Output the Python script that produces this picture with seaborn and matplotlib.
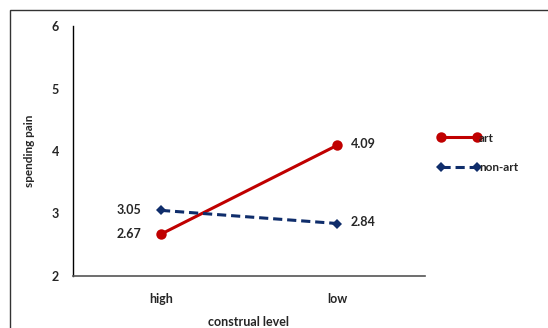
import matplotlib
matplotlib.use("Agg")
import matplotlib.pyplot as plt
import matplotlib.patches as patches
from matplotlib.ticker import FixedLocator
import pandas as pd
import seaborn as sns

levels = ["high", "low"]
art = [2.67, 4.09]
non_art = [3.05, 2.84]
groups = ["art", "non-art"]

df = pd.DataFrame({
    "construal level": levels * 2,
    "spending pain": art + non_art,
    "group": [groups[0]] * 2 + [groups[1]] * 2,
})

sns.set_style("white")
plt.rcParams["font.family"] = ["Lato", "DejaVu Sans"]
plt.rcParams["font.weight"] = "bold"

fig = plt.figure(figsize=(5.48, 3.28), dpi=100)
ax = fig.add_axes([73 / 548, 1 - 276 / 328, 352 / 548, 250 / 328])

red = "#C00000"
navy = "#0F2D6B"
sns.lineplot(data=df, x="construal level", y="spending pain", hue="group",
             style="group", palette={"art": red, "non-art": navy},
             markers={"art": "o", "non-art": "D"},
             dashes={"art": "", "non-art": (3, 1.6)},
             linewidth=2.2, markersize=7.5, markeredgewidth=0,
             ax=ax, legend=False)
# smaller diamonds
ax.lines[1].set_markersize(5.5)

ax.set_ylim(2, 6)
ax.set_yticks([2, 3, 4, 5, 6])
ax.set_xlim(-0.5, 1.5)
ax.xaxis.set_major_locator(FixedLocator([-0.5, 0.5, 1.5]))
ax.xaxis.set_minor_locator(FixedLocator([0, 1]))
ax.set_xticklabels([], minor=False)
ax.set_xticklabels(levels, minor=True)
ax.tick_params(axis="x", which="major", direction="out", length=4, color="#555555", width=1)
ax.tick_params(axis="x", which="minor", length=0, pad=12, labelsize=9)
ax.tick_params(axis="y", direction="out", length=4, width=1, color="black", labelsize=9, pad=6)

for s in ["top", "right"]:
    ax.spines[s].set_visible(False)
ax.spines["left"].set_color("black")
ax.spines["left"].set_linewidth(1)
ax.spines["bottom"].set_color("#555555")
ax.spines["bottom"].set_linewidth(1.2)

ax.set_xlabel("construal level", fontsize=9, fontweight="bold", labelpad=8)
ax.set_ylabel("spending pain", fontsize=8.5, fontweight="bold", labelpad=12)

# value labels: left of the "high" point, right of the "low" point
for series in (art, non_art):
    for i, v in enumerate(series):
        if i == 0:
            ax.annotate(f"{v:.2f}", (i, v), xytext=(-14, 0), textcoords="offset points",
                        ha="right", va="center", fontsize=9, fontweight="bold")
        else:
            ax.annotate(f"{v:.2f}", (i, v), xytext=(10, 1), textcoords="offset points",
                        ha="left", va="center", fontsize=9, fontweight="bold")

# legend
handles = [ax.lines[0], ax.lines[1]]
leg = fig.legend(handles, groups, loc="upper left",
                 bbox_to_anchor=(427 / 548, 1 - 122 / 328), frameon=False,
                 numpoints=2, handlelength=3.6, handletextpad=-0.1,
                 labelspacing=1.55, prop={"size": 8.5, "weight": "bold"})

# outer border
fig.patches.append(patches.Rectangle((10 / 548, -0.1), 1.2, 1 - 10 / 328 + 0.1,
                                     transform=fig.transFigure, fill=False,
                                     edgecolor="#333333", linewidth=1))

fig.savefig("out.png", dpi=100)
